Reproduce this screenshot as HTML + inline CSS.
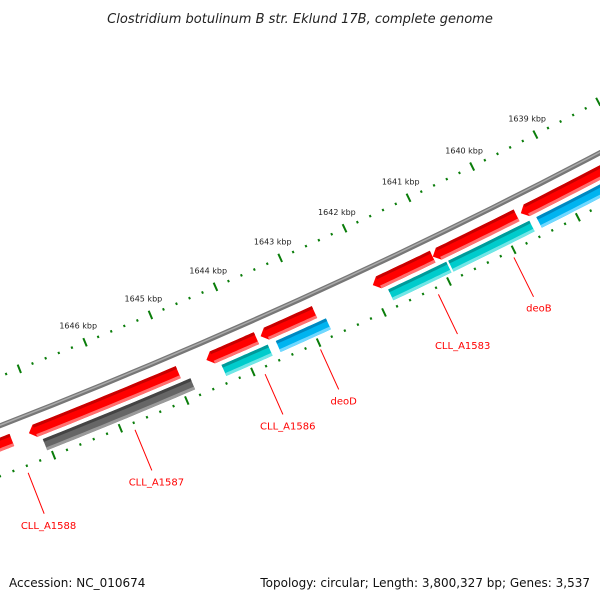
<!DOCTYPE html>
<html><head><meta charset="utf-8"><style>
html,body{margin:0;padding:0;background:#fff;}
svg{display:block;font-family:"DejaVu Sans","Liberation Sans",sans-serif;}
</style></head><body>
<svg id="chart" width="600" height="600" viewBox="0 0 600 600">
<text x="300" y="23" text-anchor="middle" font-size="13" font-style="italic" fill="#222">Clostridium botulinum B str. Eklund 17B, complete genome</text>
<text x="9" y="587" font-size="12" fill="#111">Accession: NC_010674</text>
<text x="590" y="587" text-anchor="end" font-size="12" fill="#111">Topology: circular; Length: 3,800,327 bp; Genes: 3,537</text>
<g id="plot"></g>
</svg>
<script>
// data
const tickKbp = [1639, 1640, 1641, 1642, 1643, 1644, 1645, 1646];
const fwdStarts = [1647463, 1644955, 1643765, 1642876, 1641055, 1639749, 1637900];
const fwdEnds   = [1648100, 1647117, 1644437, 1643612, 1641890, 1640962, 1639593];
const revStarts = [1644833, 1643658, 1642768, 1640915, 1639624, 1637900];
const revEnds   = [1647057, 1644361, 1643535, 1641812, 1640884, 1639514];
const revKinds  = ["grey", "cyan", "blue", "cyan", "cyan", "blue"];
const geneLabels = ["CLL_A1588", "CLL_A1587", "CLL_A1586", "deoD", "CLL_A1583", "deoB"];
const labelBp    = [1647418, 1645820, 1643857, 1643015, 1641210, 1640044];

const NS = "http://www.w3.org/2000/svg";
const cx = -2138, cy = -5070, R0 = 5897;
const g = document.getElementById('plot');
function ang(bp){ return (67.67 + (bp - 1646000) * 0.000694) * Math.PI / 180; }
function pt(r, bp){ const a = ang(bp); return [cx + r * Math.cos(a), cy + r * Math.sin(a)]; }
function mk(tag, attrs){ const e = document.createElementNS(NS, tag); for (const k in attrs) e.setAttribute(k, attrs[k]); g.appendChild(e); return e; }
function arcPts(r, s, e, n){ const a = []; for (let i = 0; i <= n; i++) a.push(pt(r, s + (e - s) * i / n)); return a; }
function band(r1, r2, s, e, tip){
  let p = arcPts(r1, s, e, 16);
  if (tip) p.push(pt((r1 + r2) / 2, e + tip));
  p = p.concat(arcPts(r2, e, s, 16));
  return p.map(q => q[0].toFixed(1) + ',' + q[1].toFixed(1)).join(' ');
}

// backbone
let bb = mk('polyline', {points: band(R0, R0, 1637000, 1649000, 0).split(' ').slice(0, 17).join(' '), fill: 'none', stroke: '#777', 'stroke-width': 5});


let bb2 = mk('polyline', {points: arcPts(R0 - 0.5, 1637000, 1649000, 16).map(q => q.join(',')).join(' '), fill: 'none', stroke: '#aaa', 'stroke-width': 1.5});



// tick rings
[R0 - 46, R0 + 47].forEach(function(r, ri){
  for (let bp = 1637000; bp <= 1649000; bp += 200) {
    const major = bp % 1000 === 0;
    const h = major ? 4.5 : 1.2;
    const a = pt(r - h, bp), b = pt(r + h, bp);
    const t = mk('line', {x1: a[0], y1: a[1], x2: b[0], y2: b[1], stroke: '#0a7d0a', 'stroke-width': 2});
    
    
  }
});
tickKbp.forEach(function(k){
  const p = pt(R0 - 64, k * 1000);
  const t = mk('text', {x: p[0], y: p[1] + 3, 'text-anchor': 'middle', 'font-size': 8, fill: '#222'});
  t.textContent = k + ' kbp';
  
  
});

// genes
const styles = {
  red:  ['#ff0000', '#c80000', '#ff7070'],
  grey: ['#666666', '#444444', '#9a9a9a'],
  cyan: ['#00cccc', '#009a9a', '#70e6e6'],
  blue: ['#00b4f0', '#0088c0', '#70d8ff']
};
function drawGene(s, e, r1, r2, kind, tip, name){
  const st = styles[kind];
  const m = mk('polygon', {points: band(r1, r2, s, e, tip), fill: st[0]});
  
  
  const t = mk('polygon', {points: band(r1, r1 + 3, s, e, 0), fill: st[1]});
  
  
  const b = mk('polygon', {points: band(r2 - 3, r2, s, e, 0), fill: st[2]});
  
  
}
for (let i = 0; i < fwdStarts.length; i++) drawGene(fwdStarts[i], fwdEnds[i], R0 + 11, R0 + 24, 'red', 90, 'forward-gene');
for (let i = 0; i < revStarts.length; i++) drawGene(revStarts[i], revEnds[i], R0 + 28, R0 + 40, revKinds[i], 0, 'reverse-gene');

// labels
for (let i = 0; i < geneLabels.length; i++) {
  const a = pt(R0 + 54, labelBp[i]), b = pt(R0 + 98, labelBp[i]), c = pt(R0 + 110, labelBp[i]);
  const l = mk('line', {x1: a[0], y1: a[1], x2: b[0], y2: b[1], stroke: '#ff0000', 'stroke-width': 1});
  
  
  const t = mk('text', {x: c[0], y: c[1] + 4, 'text-anchor': 'middle', 'font-size': 10, fill: '#ff0000'});
  t.textContent = geneLabels[i];
  
  
}
</script>
</body></html>
